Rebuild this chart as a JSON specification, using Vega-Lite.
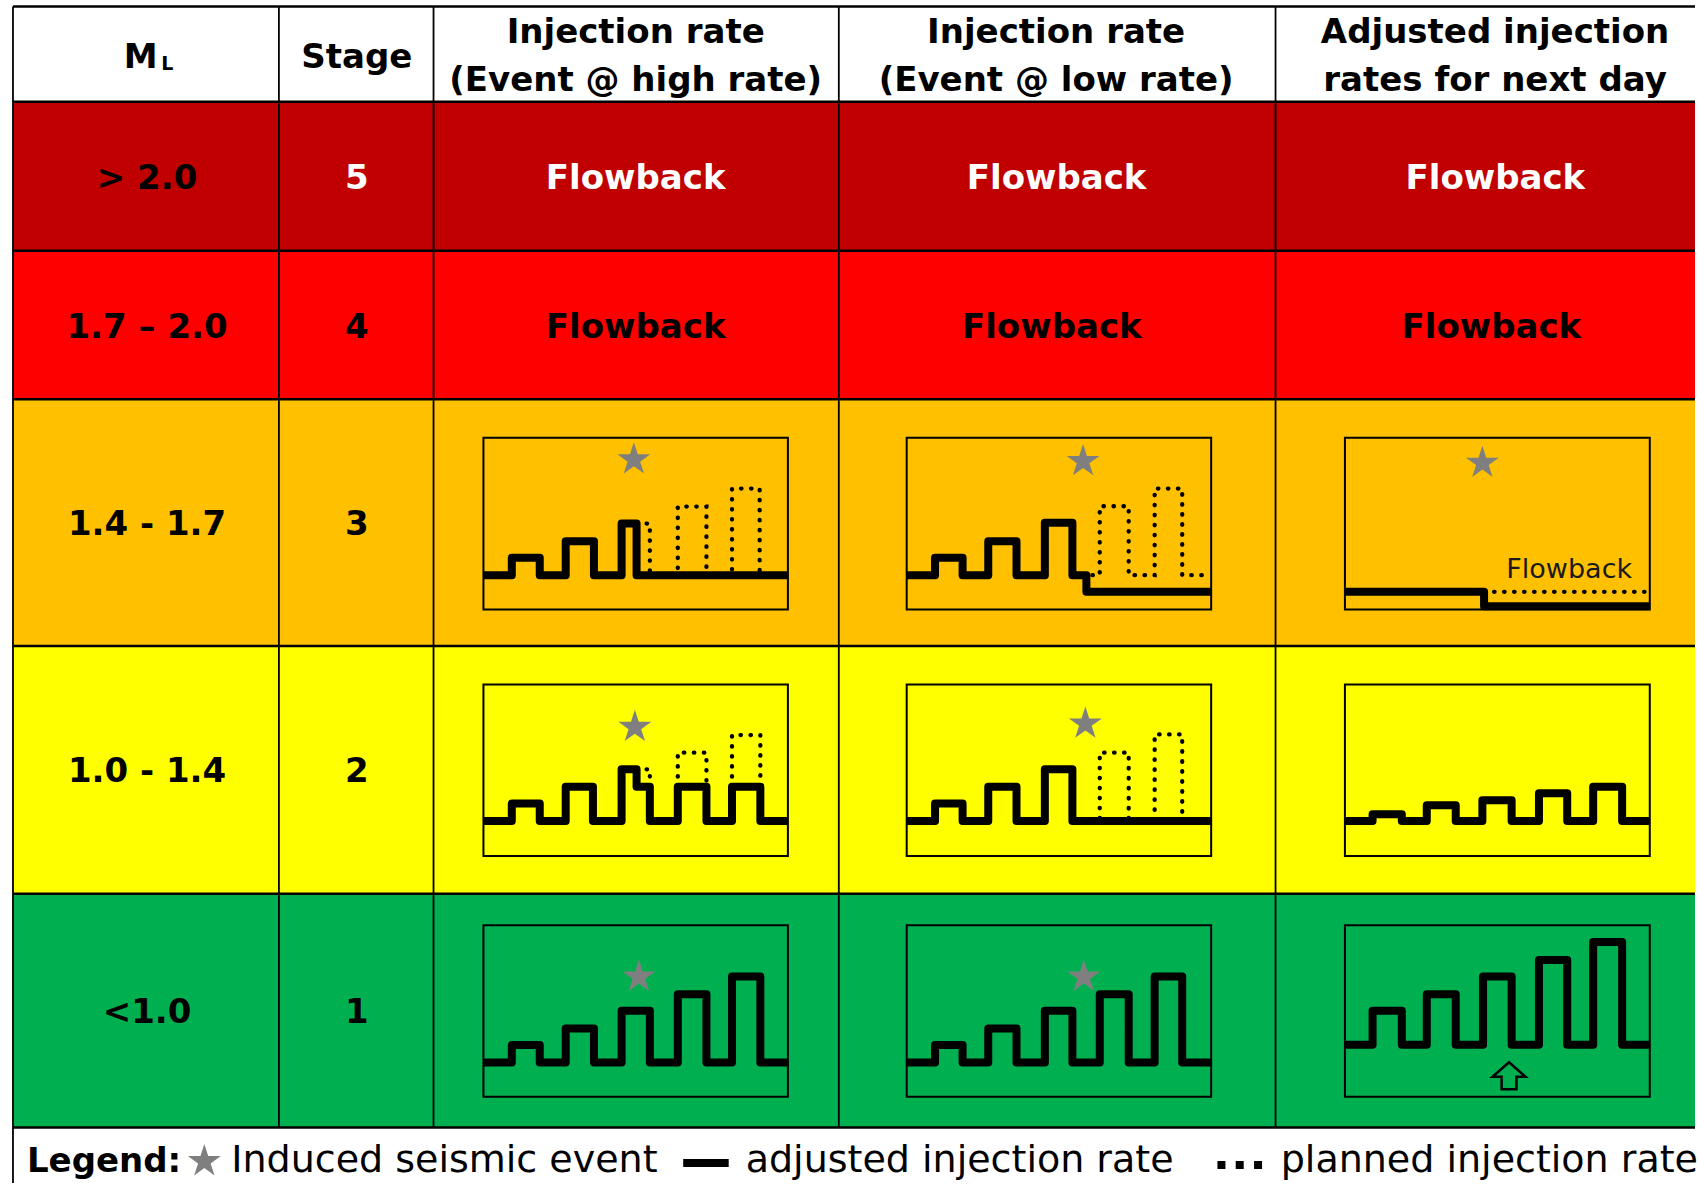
{
  "$schema": "https://vega.github.io/schema/vega-lite/v6.json",
  "width": 1698,
  "height": 1184,
  "autosize": {"type": "fit", "contains": "padding"},
  "padding": 0,
  "background": "white",
  "config": {"view": {"stroke": null}},
  "datasets": {
    "bands": [
      {"band": "header", "x": 13, "x2": 1698, "y": 6.5, "y2": 101.8},
      {"band": "s5", "x": 13, "x2": 1698, "y": 101.8, "y2": 251},
      {"band": "s4", "x": 13, "x2": 1698, "y": 251, "y2": 399.6},
      {"band": "s3", "x": 13, "x2": 1698, "y": 399.6, "y2": 646.5},
      {"band": "s2", "x": 13, "x2": 1698, "y": 646.5, "y2": 894.5},
      {"band": "s1", "x": 13, "x2": 1698, "y": 894.5, "y2": 1128.4},
      {"band": "legend", "x": 13, "x2": 1698, "y": 1128.4, "y2": 1184}
    ],
    "hlines": [
      {"x": 13, "x2": 1698, "y": 6.5},
      {"x": 13, "x2": 1698, "y": 101.8},
      {"x": 13, "x2": 1698, "y": 251},
      {"x": 13, "x2": 1698, "y": 399.6},
      {"x": 13, "x2": 1698, "y": 646.5},
      {"x": 13, "x2": 1698, "y": 894.5},
      {"x": 13, "x2": 1698, "y": 1128.4}
    ],
    "vlines": [
      {"x": 13, "y": 6.5, "y2": 1184},
      {"x": 279.4, "y": 6.5, "y2": 1128.4},
      {"x": 434.3, "y": 6.5, "y2": 1128.4},
      {"x": 840.3, "y": 6.5, "y2": 1128.4},
      {"x": 1277.8, "y": 6.5, "y2": 1128.4}
    ],
    "boxes": [
      {"x": 484.3, "x2": 789.3, "y": 438, "y2": 610},
      {"x": 908.3, "x2": 1213.3, "y": 438, "y2": 610},
      {"x": 1347.3, "x2": 1652.7, "y": 438, "y2": 610},
      {"x": 484.3, "x2": 789.3, "y": 685, "y2": 856.7},
      {"x": 908.3, "x2": 1213.3, "y": 685, "y2": 856.7},
      {"x": 1347.3, "x2": 1652.7, "y": 685, "y2": 856.7},
      {"x": 484.3, "x2": 789.3, "y": 926, "y2": 1097.7},
      {"x": 908.3, "x2": 1213.3, "y": 926, "y2": 1097.7},
      {"x": 1347.3, "x2": 1652.7, "y": 926, "y2": 1097.7}
    ],
    "solid": [
      {"id": "s3c3", "i": 0, "x": 484.3, "y": 575.7},
      {"id": "s3c3", "i": 1, "x": 512.7, "y": 558.3},
      {"id": "s3c3", "i": 2, "x": 540.7, "y": 575.7},
      {"id": "s3c3", "i": 3, "x": 566.7, "y": 541.7},
      {"id": "s3c3", "i": 4, "x": 595, "y": 575.7},
      {"id": "s3c3", "i": 5, "x": 622.7, "y": 524},
      {"id": "s3c3", "i": 6, "x": 637.7, "y": 575.7},
      {"id": "s3c3", "i": 7, "x": 789.3, "y": 575.7},
      {"id": "s3c4", "i": 0, "x": 908.3, "y": 575.7},
      {"id": "s3c4", "i": 1, "x": 936.7, "y": 558.3},
      {"id": "s3c4", "i": 2, "x": 964.3, "y": 575.7},
      {"id": "s3c4", "i": 3, "x": 990, "y": 541.7},
      {"id": "s3c4", "i": 4, "x": 1018.3, "y": 575.7},
      {"id": "s3c4", "i": 5, "x": 1046.7, "y": 523.3},
      {"id": "s3c4", "i": 6, "x": 1074.3, "y": 575.7},
      {"id": "s3c4", "i": 7, "x": 1088.3, "y": 592.3},
      {"id": "s3c4", "i": 8, "x": 1213.3, "y": 592.3},
      {"id": "s3c5", "i": 0, "x": 1347.3, "y": 592.3},
      {"id": "s3c5", "i": 1, "x": 1486.7, "y": 606.7},
      {"id": "s3c5", "i": 2, "x": 1652.7, "y": 606.7},
      {"id": "s2c3", "i": 0, "x": 484.3, "y": 821.7},
      {"id": "s2c3", "i": 1, "x": 512.7, "y": 804.3},
      {"id": "s2c3", "i": 2, "x": 540.7, "y": 821.7},
      {"id": "s2c3", "i": 3, "x": 566.7, "y": 787.3},
      {"id": "s2c3", "i": 4, "x": 594, "y": 821.7},
      {"id": "s2c3", "i": 5, "x": 622.7, "y": 770},
      {"id": "s2c3", "i": 6, "x": 637.7, "y": 787.3},
      {"id": "s2c3", "i": 7, "x": 651, "y": 821.7},
      {"id": "s2c3", "i": 8, "x": 679, "y": 787.3},
      {"id": "s2c3", "i": 9, "x": 707.7, "y": 821.7},
      {"id": "s2c3", "i": 10, "x": 733.3, "y": 787.3},
      {"id": "s2c3", "i": 11, "x": 761.7, "y": 821.7},
      {"id": "s2c3", "i": 12, "x": 789.3, "y": 821.7},
      {"id": "s2c4", "i": 0, "x": 908.3, "y": 821.7},
      {"id": "s2c4", "i": 1, "x": 936.7, "y": 804.3},
      {"id": "s2c4", "i": 2, "x": 964.3, "y": 821.7},
      {"id": "s2c4", "i": 3, "x": 990, "y": 787.3},
      {"id": "s2c4", "i": 4, "x": 1018.3, "y": 821.7},
      {"id": "s2c4", "i": 5, "x": 1046.7, "y": 770},
      {"id": "s2c4", "i": 6, "x": 1074.3, "y": 821.7},
      {"id": "s2c4", "i": 7, "x": 1213.3, "y": 821.7},
      {"id": "s2c5", "i": 0, "x": 1347.3, "y": 821.7},
      {"id": "s2c5", "i": 1, "x": 1375, "y": 815},
      {"id": "s2c5", "i": 2, "x": 1404.3, "y": 821.7},
      {"id": "s2c5", "i": 3, "x": 1429.3, "y": 806},
      {"id": "s2c5", "i": 4, "x": 1458.3, "y": 821.7},
      {"id": "s2c5", "i": 5, "x": 1485, "y": 801},
      {"id": "s2c5", "i": 6, "x": 1514.3, "y": 821.7},
      {"id": "s2c5", "i": 7, "x": 1541.7, "y": 794},
      {"id": "s2c5", "i": 8, "x": 1570, "y": 821.7},
      {"id": "s2c5", "i": 9, "x": 1596, "y": 787.3},
      {"id": "s2c5", "i": 10, "x": 1625, "y": 821.7},
      {"id": "s2c5", "i": 11, "x": 1652.7, "y": 821.7},
      {"id": "s1c3", "i": 0, "x": 484.3, "y": 1063.3},
      {"id": "s1c3", "i": 1, "x": 512.7, "y": 1046},
      {"id": "s1c3", "i": 2, "x": 540.7, "y": 1063.3},
      {"id": "s1c3", "i": 3, "x": 566.7, "y": 1029.3},
      {"id": "s1c3", "i": 4, "x": 595, "y": 1063.3},
      {"id": "s1c3", "i": 5, "x": 622.7, "y": 1011.7},
      {"id": "s1c3", "i": 6, "x": 651, "y": 1063.3},
      {"id": "s1c3", "i": 7, "x": 679, "y": 995},
      {"id": "s1c3", "i": 8, "x": 707.7, "y": 1063.3},
      {"id": "s1c3", "i": 9, "x": 733.3, "y": 977.3},
      {"id": "s1c3", "i": 10, "x": 761.7, "y": 1063.3},
      {"id": "s1c3", "i": 11, "x": 789.3, "y": 1063.3},
      {"id": "s1c4", "i": 0, "x": 908.3, "y": 1063.3},
      {"id": "s1c4", "i": 1, "x": 936.7, "y": 1046},
      {"id": "s1c4", "i": 2, "x": 964.3, "y": 1063.3},
      {"id": "s1c4", "i": 3, "x": 990, "y": 1029.3},
      {"id": "s1c4", "i": 4, "x": 1018.3, "y": 1063.3},
      {"id": "s1c4", "i": 5, "x": 1046.7, "y": 1011.7},
      {"id": "s1c4", "i": 6, "x": 1074.3, "y": 1063.3},
      {"id": "s1c4", "i": 7, "x": 1101.7, "y": 995},
      {"id": "s1c4", "i": 8, "x": 1130.7, "y": 1063.3},
      {"id": "s1c4", "i": 9, "x": 1156.7, "y": 977.3},
      {"id": "s1c4", "i": 10, "x": 1184.3, "y": 1063.3},
      {"id": "s1c4", "i": 11, "x": 1213.3, "y": 1063.3},
      {"id": "s1c5", "i": 0, "x": 1347.3, "y": 1045.7},
      {"id": "s1c5", "i": 1, "x": 1375, "y": 1011.7},
      {"id": "s1c5", "i": 2, "x": 1404.3, "y": 1045.7},
      {"id": "s1c5", "i": 3, "x": 1429.3, "y": 995},
      {"id": "s1c5", "i": 4, "x": 1458.3, "y": 1045.7},
      {"id": "s1c5", "i": 5, "x": 1485.7, "y": 977.3},
      {"id": "s1c5", "i": 6, "x": 1514.3, "y": 1045.7},
      {"id": "s1c5", "i": 7, "x": 1541.7, "y": 960.7},
      {"id": "s1c5", "i": 8, "x": 1570, "y": 1045.7},
      {"id": "s1c5", "i": 9, "x": 1596, "y": 942.7},
      {"id": "s1c5", "i": 10, "x": 1625, "y": 1045.7},
      {"id": "s1c5", "i": 11, "x": 1652.7, "y": 1045.7},
      {"id": "legend", "i": 0, "x": 684.4, "y": 1164},
      {"id": "legend", "i": 1, "x": 730, "y": 1164}
    ],
    "dotted": [
      {"id": "d3c3", "i": 0, "x": 637.7, "y": 524},
      {"id": "d3c3", "i": 1, "x": 651, "y": 575.7},
      {"id": "d3c3", "i": 2, "x": 679, "y": 507},
      {"id": "d3c3", "i": 3, "x": 707.7, "y": 575.7},
      {"id": "d3c3", "i": 4, "x": 733.3, "y": 489},
      {"id": "d3c3", "i": 5, "x": 761, "y": 575.7},
      {"id": "d3c4", "i": 0, "x": 1074.3, "y": 575.7},
      {"id": "d3c4", "i": 1, "x": 1101.7, "y": 506.7},
      {"id": "d3c4", "i": 2, "x": 1130.7, "y": 575.7},
      {"id": "d3c4", "i": 3, "x": 1156.7, "y": 489},
      {"id": "d3c4", "i": 4, "x": 1184.3, "y": 575.7},
      {"id": "d3c4", "i": 5, "x": 1213.3, "y": 575.7},
      {"id": "d3c5", "i": 0, "x": 1486.7, "y": 592.3},
      {"id": "d3c5", "i": 1, "x": 1652.7, "y": 592.3},
      {"id": "d2c3a", "i": 0, "x": 637.7, "y": 770},
      {"id": "d2c3a", "i": 1, "x": 651, "y": 787.3},
      {"id": "d2c3b", "i": 0, "x": 679, "y": 787.3},
      {"id": "d2c3b", "i": 1, "x": 679, "y": 753.3},
      {"id": "d2c3b", "i": 2, "x": 707.7, "y": 787.3},
      {"id": "d2c3c", "i": 0, "x": 733.3, "y": 787.3},
      {"id": "d2c3c", "i": 1, "x": 733.3, "y": 735.7},
      {"id": "d2c3c", "i": 2, "x": 761.7, "y": 787.3},
      {"id": "d2c4", "i": 0, "x": 1074.3, "y": 821.7},
      {"id": "d2c4", "i": 1, "x": 1101.7, "y": 753.3},
      {"id": "d2c4", "i": 2, "x": 1130.7, "y": 821.7},
      {"id": "d2c4", "i": 3, "x": 1156.7, "y": 735},
      {"id": "d2c4", "i": 4, "x": 1184.3, "y": 821.7}
    ],
    "stars": [
      {"x": 635, "y": 460},
      {"x": 1085, "y": 461.7},
      {"x": 1485, "y": 463.4},
      {"x": 636, "y": 727.7},
      {"x": 1087.3, "y": 724.4},
      {"x": 640, "y": 977.7},
      {"x": 1085.7, "y": 977.7},
      {"x": 204.7, "y": 1162.4}
    ],
    "arrow": [{"x": 1511.7, "y": 1076.7}],
    "legendDots": [
      {"x": 1223.6, "y": 1166},
      {"x": 1241.9, "y": 1166},
      {"x": 1260.3, "y": 1166}
    ],
    "boldBlack": [
      {"t": "M", "x": 140.8, "y": 68.2},
      {"t": "Stage", "x": 357.4, "y": 68},
      {"t": "Injection rate", "x": 636.8, "y": 43.3},
      {"t": "(Event @ high rate)", "x": 636.8, "y": 91},
      {"t": "Injection rate", "x": 1058, "y": 43.3},
      {"t": "(Event @ low rate)", "x": 1058, "y": 91},
      {"t": "Adjusted injection", "x": 1497.7, "y": 43.3},
      {"t": "rates for next day", "x": 1497.7, "y": 91},
      {"t": "> 2.0", "x": 147.3, "y": 189},
      {"t": "1.7 – 2.0", "x": 147.3, "y": 338},
      {"t": "4", "x": 357.4, "y": 338},
      {"t": "Flowback", "x": 636.8, "y": 338},
      {"t": "Flowback", "x": 1053.7, "y": 338},
      {"t": "Flowback", "x": 1494, "y": 338},
      {"t": "1.4 - 1.7", "x": 147.3, "y": 535.6},
      {"t": "3", "x": 357.4, "y": 535.6},
      {"t": "1.0 - 1.4", "x": 147.3, "y": 783},
      {"t": "2", "x": 357.4, "y": 783},
      {"t": "<1.0", "x": 147.3, "y": 1024},
      {"t": "1", "x": 357.4, "y": 1024}
    ],
    "boldWhite": [
      {"t": "5", "x": 357.4, "y": 189},
      {"t": "Flowback", "x": 636.8, "y": 189},
      {"t": "Flowback", "x": 1058.5, "y": 189},
      {"t": "Flowback", "x": 1498, "y": 189}
    ],
    "sub": [{"t": "L", "x": 167.5, "y": 70.4}],
    "legendBold": [{"t": "Legend:", "x": 27, "y": 1173}],
    "legendText": [
      {"t": "Induced seismic event", "x": 231.7, "y": 1173},
      {"t": "adjusted injection rate", "x": 747, "y": 1173},
      {"t": "planned injection rate", "x": 1283, "y": 1173}
    ],
    "boxText": [{"t": "Flowback", "x": 1572, "y": 578}]
  },
  "encoding": {
    "x": {"field": "x", "type": "quantitative", "scale": {"domain": [0, 1698], "nice": false, "zero": false}, "axis": null},
    "y": {"field": "y", "type": "quantitative", "scale": {"domain": [0, 1184], "nice": false, "zero": false, "reverse": true}, "axis": null}
  },
  "layer": [
    {
      "data": {"name": "bands"},
      "mark": {"type": "rect", "strokeWidth": 0},
      "encoding": {
        "x2": {"field": "x2"},
        "y2": {"field": "y2"},
        "color": {"field": "band", "type": "nominal", "legend": null,
          "scale": {"domain": ["header", "s5", "s4", "s3", "s2", "s1", "legend"],
                    "range": ["#FFFFFF", "#C00000", "#FF0000", "#FFC000", "#FFFF00", "#00B050", "#FFFFFF"]}}
      }
    },
    {
      "data": {"name": "boxes"},
      "mark": {"type": "rect", "filled": false, "color": "#000000", "strokeWidth": 2},
      "encoding": {"x2": {"field": "x2"}, "y2": {"field": "y2"}}
    },
    {
      "data": {"name": "dotted"},
      "mark": {"type": "line", "interpolate": "step-after", "color": "#000000", "strokeWidth": 4.3, "strokeDash": [0.5, 9.5], "strokeCap": "round"},
      "encoding": {"detail": {"field": "id"}, "order": {"field": "i", "type": "quantitative"}}
    },
    {
      "data": {"name": "solid"},
      "mark": {"type": "line", "interpolate": "step-after", "color": "#000000", "strokeWidth": 8, "strokeJoin": "round"},
      "encoding": {"detail": {"field": "id"}, "order": {"field": "i", "type": "quantitative"}}
    },
    {
      "data": {"name": "arrow"},
      "mark": {"type": "point", "filled": true, "fill": "#00B050", "stroke": "#000000", "strokeWidth": 2.5, "opacity": 1, "size": 1089,
        "shape": "M0,-0.82L1,0.06L0.45,0.06L0.45,0.82L-0.45,0.82L-0.45,0.06L-1,0.06Z"},
      "encoding": {}
    },
    {
      "data": {"name": "stars"},
      "mark": {"type": "point", "filled": true, "fill": "#7F7F7F", "strokeWidth": 0, "opacity": 1, "size": 1200,
        "shape": "M0,-1L0.2245,-0.309L0.951,-0.309L0.363,0.118L0.588,0.809L0,0.382L-0.588,0.809L-0.363,0.118L-0.951,-0.309L-0.2245,-0.309Z"},
      "encoding": {}
    },
    {
      "data": {"name": "legendDots"},
      "mark": {"type": "point", "shape": "square", "filled": true, "fill": "#000000", "strokeWidth": 0, "opacity": 1, "size": 64},
      "encoding": {}
    },
    {
      "data": {"name": "hlines"},
      "mark": {"type": "rule", "color": "#000000", "strokeWidth": 2.5},
      "encoding": {"x2": {"field": "x2"}}
    },
    {
      "data": {"name": "vlines"},
      "mark": {"type": "rule", "color": "#000000", "strokeWidth": 1.8},
      "encoding": {"y2": {"field": "y2"}}
    },
    {
      "data": {"name": "boldBlack"},
      "mark": {"type": "text", "font": "DejaVu Sans", "fontWeight": "bold", "fontSize": 34, "align": "center", "baseline": "alphabetic", "color": "#000000"},
      "encoding": {"text": {"field": "t"}}
    },
    {
      "data": {"name": "boldWhite"},
      "mark": {"type": "text", "font": "DejaVu Sans", "fontWeight": "bold", "fontSize": 34, "align": "center", "baseline": "alphabetic", "color": "#FFFFFF"},
      "encoding": {"text": {"field": "t"}}
    },
    {
      "data": {"name": "sub"},
      "mark": {"type": "text", "font": "DejaVu Sans", "fontWeight": "bold", "fontSize": 19, "align": "center", "baseline": "alphabetic", "color": "#000000"},
      "encoding": {"text": {"field": "t"}}
    },
    {
      "data": {"name": "legendBold"},
      "mark": {"type": "text", "font": "DejaVu Sans", "fontWeight": "bold", "fontSize": 34, "align": "left", "baseline": "alphabetic", "color": "#000000"},
      "encoding": {"text": {"field": "t"}}
    },
    {
      "data": {"name": "legendText"},
      "mark": {"type": "text", "font": "DejaVu Sans", "fontWeight": "normal", "fontSize": 38, "align": "left", "baseline": "alphabetic", "color": "#000000"},
      "encoding": {"text": {"field": "t"}}
    },
    {
      "data": {"name": "boxText"},
      "mark": {"type": "text", "font": "DejaVu Sans", "fontWeight": "normal", "fontSize": 27, "align": "center", "baseline": "alphabetic", "color": "#1A1A1A"},
      "encoding": {"text": {"field": "t"}}
    }
  ]
}
